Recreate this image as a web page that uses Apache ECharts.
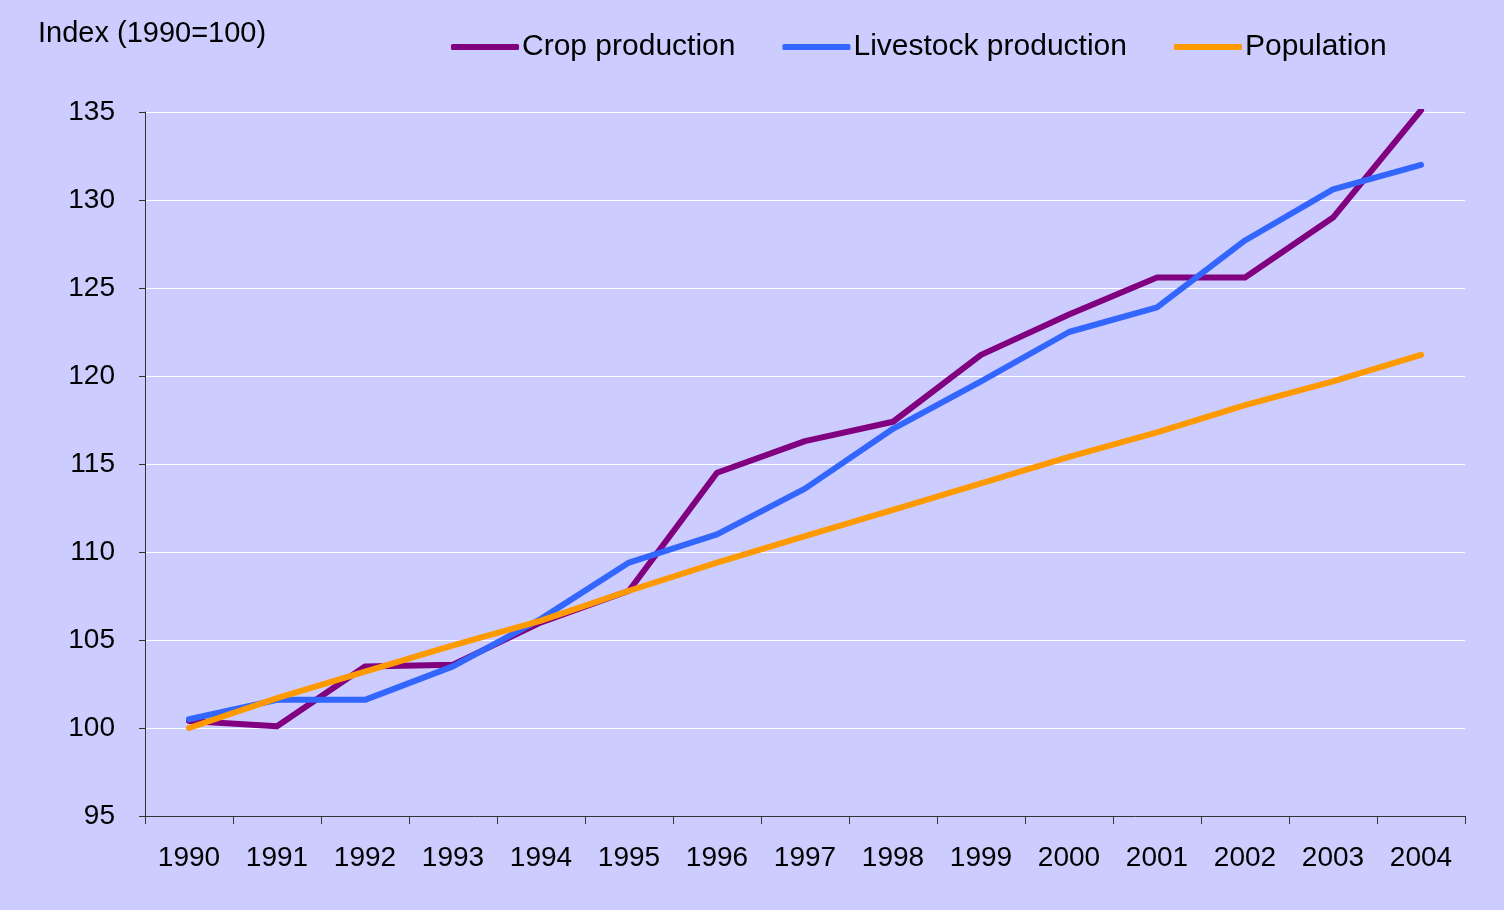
<!DOCTYPE html>
<html>
<head>
<meta charset="utf-8">
<script src="https://cdn.jsdelivr.net/npm/echarts@6/dist/echarts.min.js"></script>
<style>
  html, body { margin: 0; padding: 0; background: #ccccff; }
  #main { width: 1504px; height: 910px; }
</style>
</head>
<body>
<div id="main"></div>
<script>
// years on the x axis
var years = ['1990', '1991', '1992', '1993', '1994', '1995', '1996', '1997',
  '1998', '1999', '2000', '2001', '2002', '2003', '2004'];

// index values, 1990 = 100
var crop = [100.4, 100.1, 103.5, 103.6, 106.0, 107.8, 114.5, 116.3, 117.4,
  121.2, 123.5, 125.6, 125.6, 129.0, 135.1];
var livestock = [100.5, 101.6, 101.6, 103.5, 106.2, 109.4, 111.0, 113.6, 117.0,
  119.7, 122.5, 123.9, 127.7, 130.6, 132.0];
var population = [100.0, 101.7, 103.2, 104.7, 106.1, 107.8, 109.4, 110.9, 112.4,
  113.9, 115.4, 116.8, 118.35, 119.7, 121.2];

var chart = echarts.init(document.getElementById('main'));

var font = 'Liberation Sans, Arial, sans-serif';

function line(name, data, color) {
  return {
    name: name,
    type: 'line',
    data: data,
    showSymbol: false,
    symbol: 'none',
    animation: false,
    lineStyle: { color: color, width: 6, cap: 'round', join: 'round' },
    itemStyle: { color: color }
  };
}

var option = {
  backgroundColor: '#ccccff',
  animation: false,
  title: {
    text: 'Index (1990=100)',
    left: 33,
    top: 14,
    textStyle: { fontFamily: font, fontSize: 29, fontWeight: 'normal', color: '#000' }
  },
  legend: {
    left: 446,
    top: 27,
    icon: 'roundRect',
    itemWidth: 68,
    itemHeight: 6,
    itemGap: 47,
    textStyle: { fontFamily: font, fontSize: 30, color: '#000', padding: [0, 0, 0, -2] },
    data: ['Crop production', 'Livestock production', 'Population']
  },
  grid: { left: 145, right: 39, top: 112, bottom: 94, containLabel: false },
  xAxis: {
    type: 'category',
    data: years,
    boundaryGap: true,
    axisLine: { lineStyle: { color: '#333', width: 1 } },
    axisTick: { show: true, length: 8, lineStyle: { color: '#333' } },
    axisLabel: { fontFamily: font, fontSize: 28, color: '#000', margin: 28 },
    splitLine: { show: false }
  },
  yAxis: {
    type: 'value',
    min: 95,
    max: 135,
    interval: 5,
    axisLine: { show: true, lineStyle: { color: '#333', width: 1 } },
    axisTick: { show: true, length: 6, lineStyle: { color: '#333' } },
    axisLabel: { fontFamily: font, fontSize: 28, color: '#000', margin: 30 },
    splitLine: { show: true, lineStyle: { color: '#ffffff', width: 1 } }
  },
  series: [
    line('Crop production', crop, '#800080'),
    line('Livestock production', livestock, '#3366ff'),
    line('Population', population, '#ff9900')
  ]
};

chart.setOption(option);
</script>
</body>
</html>
